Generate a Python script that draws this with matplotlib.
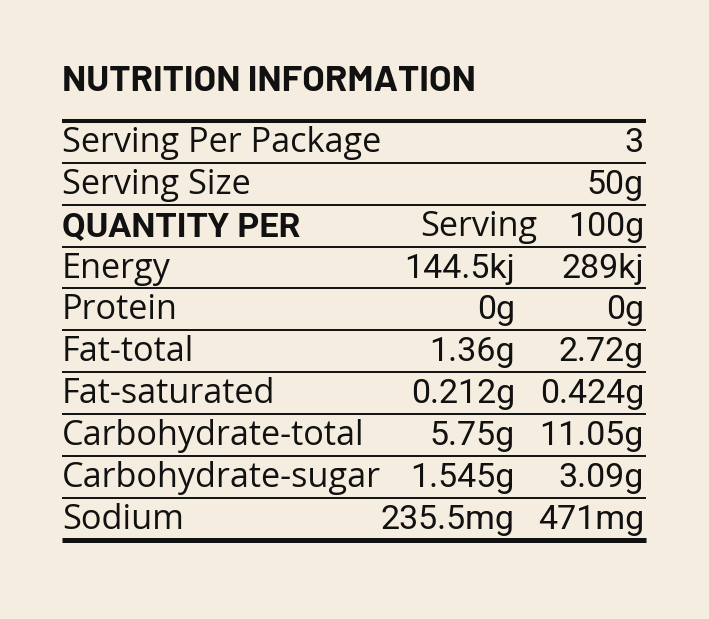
import matplotlib
matplotlib.use("Agg")
import matplotlib.pyplot as plt

title = "NUTRITION INFORMATION"
header_rows = [("Serving Per Package", "3"), ("Serving Size", "50g")]
col_header = ("QUANTITY PER", "Serving", "100g")
nutrients = ["Energy", "Protein", "Fat-total", "Fat-saturated",
             "Carbohydrate-total", "Carbohydrate-sugar", "Sodium"]
per_serving = ["144.5kj", "0g", "1.36g", "0.212g", "5.75g", "1.545g", "235.5mg"]
per_100g = ["289kj", "0g", "2.72g", "0.424g", "11.05g", "3.09g", "471mg"]

title_font = ["Barlow", "DejaVu Sans"]
label_font = ["Open Sans", "DejaVu Sans"]
value_font = ["Roboto", "DejaVu Sans"]
bold_font = ["Roboto", "DejaVu Sans"]

W, H = 709, 619
fig = plt.figure(figsize=(W / 100, H / 100), dpi=100)
fig.patch.set_facecolor("#F5EDDF")
ax = fig.add_axes([0, 0, 1, 1])
ax.set_xlim(0, W)
ax.set_ylim(H, 0)
ax.axis("off")

x0, x1 = 62, 646
xs = 515
row_h = 41.85
top = 121
ink = "#111111"

ax.text(x0, 91, title, fontsize=26.3, fontweight="bold", family=title_font,
        va="baseline", ha="left", color=ink)

ax.plot([x0, x1], [top, top], color=ink, lw=2.9, solid_capstyle="butt")

rows = []
for lab, val in header_rows:
    rows.append(("h", lab, val))
rows.append(("c",) + col_header)
for n, s, v in zip(nutrients, per_serving, per_100g):
    rows.append(("n", n, s, v))

lsize = 24.7
vsize = 24.5
y = top
for i, r in enumerate(rows):
    yb = y + 31
    if r[0] == "h":
        ax.text(x0, yb, r[1], fontsize=lsize, family=label_font, va="baseline", ha="left", color=ink)
        ax.text(x1 - 2, yb, r[2], fontsize=vsize, family=value_font, va="baseline", ha="right", color=ink)
    elif r[0] == "c":
        ax.text(x0, yb, r[1], fontsize=lsize, fontweight="bold", family=bold_font, va="baseline", ha="left", color=ink)
        ax.text(537, yb, r[2], fontsize=lsize, family=label_font, va="baseline", ha="right", color=ink)
        ax.text(x1 - 2, yb, r[3], fontsize=vsize, family=value_font, va="baseline", ha="right", color=ink)
    else:
        ax.text(x0, yb, r[1], fontsize=lsize, family=label_font, va="baseline", ha="left", color=ink)
        ax.text(xs, yb, r[2], fontsize=vsize, family=value_font, va="baseline", ha="right", color=ink)
        ax.text(x1 - 2, yb, r[3], fontsize=vsize, family=value_font, va="baseline", ha="right", color=ink)
    y += row_h
    last = i == len(rows) - 1
    ax.plot([x0, x1], [y, y], color=ink, lw=3.6 if last else 1.4, solid_capstyle="butt")

fig.savefig("out.png", dpi=100, facecolor=fig.get_facecolor())
